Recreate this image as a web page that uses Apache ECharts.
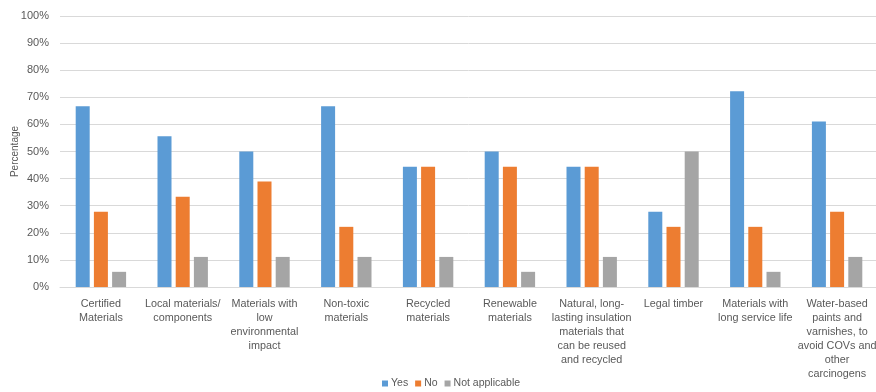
<!DOCTYPE html>
<html>
<head>
<meta charset="utf-8">
<script src="https://cdn.jsdelivr.net/npm/echarts@6/dist/echarts.min.js"></script>
<style>
  html, body { margin: 0; padding: 0; background: #fff; }
  #chart { width: 876px; height: 392px; }
</style>
</head>
<body>
<div id="chart"></div>
<script>
// Material criteria (line breaks follow the axis label wrapping)
const categories = [
  'Certified\nMaterials',
  'Local materials/\ncomponents',
  'Materials with\nlow\nenvironmental\nimpact',
  'Non-toxic\nmaterials',
  'Recycled\nmaterials',
  'Renewable\nmaterials',
  'Natural, long-\nlasting insulation\nmaterials that\ncan be reused\nand recycled',
  'Legal timber',
  'Materials with\nlong service life',
  'Water-based\npaints and\nvarnishes, to\navoid COVs and\nother\ncarcinogens'
];

// Share of responses (%)
const yesValues = [66.7, 55.6, 50.0, 66.7, 44.4, 50.0, 44.4, 27.8, 72.2, 61.1];
const noValues = [27.8, 33.3, 38.9, 22.2, 44.4, 44.4, 44.4, 22.2, 22.2, 27.8];
const naValues = [5.6, 11.1, 11.1, 11.1, 11.1, 5.6, 11.1, 50.0, 5.6, 11.1];

const seriesNames = ['Yes', 'No', 'Not applicable'];
const colors = ['#5B9BD5', '#ED7D31', '#A5A5A5'];

const font = 'Liberation Sans, Arial, sans-serif';
const chart = echarts.init(document.getElementById('chart'));

const makeBar = (name, values, color) => ({
  name: name,
  type: 'bar',
  data: values,
  barWidth: 14,
  barGap: '30%',
  itemStyle: { color: color },
  emphasis: { disabled: true }
});

chart.setOption({
  animation: false,
  color: colors,
  grid: {
    left: 60, right: -2, top: 16, bottom: 105,
    containLabel: false,
    outerBoundsMode: 'none'
  },
  legend: {
    top: 378,
    left: 382,
    padding: 0,
    itemWidth: 6,
    itemHeight: 6,
    itemGap: 7,
    icon: 'rect',
    textStyle: { fontFamily: font, fontSize: 10.5, color: '#595959', padding: [0, 0, 0, -2] },
    data: seriesNames
  },
  xAxis: {
    type: 'category',
    data: categories,
    axisLine: { show: true, lineStyle: { color: '#D9D9D9', width: 1 } },
    axisTick: { show: false },
    axisLabel: {
      interval: 0,
      margin: 10,
      fontFamily: font,
      fontSize: 10.8,
      lineHeight: 14,
      color: '#595959',
      align: 'center'
    }
  },
  yAxis: {
    type: 'value',
    min: 0,
    max: 100,
    interval: 10,
    name: 'Percentage',
    nameLocation: 'middle',
    nameGap: 40,
    nameMoveOverlap: false,
    nameRotate: 90,
    nameTextStyle: { fontFamily: font, fontSize: 10, color: '#595959' },
    axisLine: { show: false },
    axisTick: { show: false },
    axisLabel: {
      formatter: '{value}%',
      fontFamily: font,
      fontSize: 11,
      color: '#595959',
      margin: 11
    },
    splitLine: { lineStyle: { color: '#D9D9D9', width: 1 } }
  },
  series: [
    makeBar(seriesNames[0], yesValues, colors[0]),
    makeBar(seriesNames[1], noValues, colors[1]),
    makeBar(seriesNames[2], naValues, colors[2])
  ]
});
</script>
</body>
</html>
